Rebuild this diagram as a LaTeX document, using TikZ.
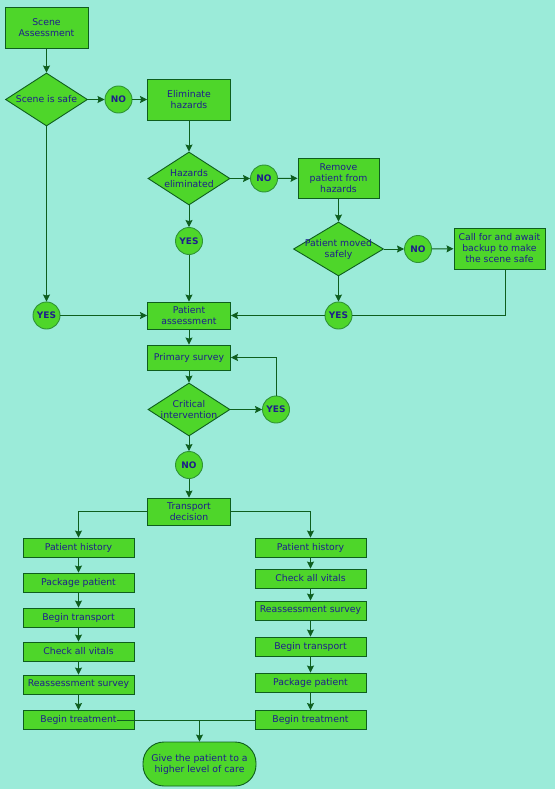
\documentclass[tikz,border=0pt]{standalone}
\usepackage{fontspec}
\setmainfont{DejaVu Sans}
\usetikzlibrary{shapes.geometric,arrows.meta}
\definecolor{bg}{HTML}{9BEBD9}
\definecolor{leaf}{HTML}{4ED62A}
\definecolor{wire}{HTML}{0E5E1E}
\definecolor{ink}{HTML}{1E1E8C}
\definecolor{ring}{HTML}{2F9436}
\begin{document}
\begin{tikzpicture}[x=1pt,y=-1pt,>={Stealth[length=7pt,width=7pt,inset=1pt]},
  every node/.style={text=ink,font=\fontsize{9.3}{11}\selectfont},
  box/.style={draw=wire,fill=leaf,line width=0.9pt,align=center,inner sep=0pt,minimum width=83pt,minimum height=41pt},
  row/.style={box,minimum width=111pt,minimum height=19pt},
  dec/.style={draw=wire,fill=leaf,line width=0.9pt,diamond,shape aspect=1.6,align=center,inner sep=-3pt,minimum width=82pt,minimum height=53pt},
  ans/.style={draw=ring,fill=leaf,line width=0.9pt,circle,inner sep=0pt,minimum size=27pt,font=\fontsize{9}{11}\bfseries},
  term/.style={draw=wire,fill=leaf,line width=0.9pt,rounded corners=21pt,align=center,inner sep=0pt,minimum width=113pt,minimum height=44pt},
  line/.style={draw=wire,line width=0.9pt}]
  \useasboundingbox[fill=bg] (0,0) rectangle (555,789);
  \node[box] (1) at (46.5,28) {Scene\\Assessment};
  \node[dec] (2) at (46.5,99.5) {Scene is safe};
  \node[ans] (3) at (118.5,99.5) {NO};
  \node[box] (4) at (189,99.5) {Eliminate\\hazards};
  \node[dec] (5) at (189,178.5) {Hazards\\eliminated};
  \node[ans] (6) at (264,178.5) {NO};
  \node[box,minimum width=81pt,minimum height=40pt] (7) at (338.5,178) {Remove\\patient from\\hazards};
  \node[ans] (8) at (189,241) {YES};
  \node[dec,minimum width=90pt,minimum height=54pt] (9) at (338.5,249) {Patient moved\\safely};
  \node[ans] (10) at (418,249) {NO};
  \node[box,minimum width=91pt] (11) at (499.5,248.5) {Call for and await\\backup to make\\the scene safe};
  \node[ans] (12) at (338.5,315.5) {YES};
  \node[ans] (13) at (46.5,315.5) {YES};
  \node[box,minimum height=27pt] (14) at (189,315.5) {Patient\\assessment};
  \node[box,minimum height=25pt] (15) at (189,357.5) {Primary survey};
  \node[dec] (16) at (189,409.5) {Critical\\intervention};
  \node[ans] (17) at (276,409.5) {YES};
  \node[ans] (18) at (189,465) {NO};
  \node[box,minimum height=27pt] (19) at (189,511.5) {Transport\\decision};
  \node[row] (20) at (78.5,547.5) {Patient history};
  \node[row] (21) at (78.5,582.5) {Package patient};
  \node[row] (22) at (78.5,617.5) {Begin transport};
  \node[row] (23) at (78.5,651.5) {Check all vitals};
  \node[row] (24) at (78.5,684.5) {Reassessment survey};
  \node[row] (25) at (78.5,720) {Begin treatment};
  \node[row] (26) at (310.5,547.5) {Patient history};
  \node[row] (27) at (310.5,578.5) {Check all vitals};
  \node[row] (28) at (310.5,610.5) {Reassessment survey};
  \node[row] (29) at (310.5,646.5) {Begin transport};
  \node[row] (30) at (310.5,682.5) {Package patient};
  \node[row] (31) at (310.5,720) {Begin treatment};
  \node[term] (32) at (199.5,764) {Give the patient to a\\higher level of care};
  \coordinate (33) at (117,720);
  \coordinate (34) at (199.5,720);
  \coordinate (35) at ([xshift=6pt]11.south);
  \draw[line,->] (1) -- (2);
  \draw[line,->] (2) -- (3);
  \draw[line,->] (3) -- (4);
  \draw[line,->] (4) -- (5);
  \draw[line,->] (5) -- (6);
  \draw[line,->] (6) -- (7);
  \draw[line,->] (5) -- (8);
  \draw[line,->] (8) -- (14);
  \draw[line,->] (7) -- (9);
  \draw[line,->] (9) -- (10);
  \draw[line,->] (10) -- (11);
  \draw[line,->] (9) -- (12);
  \draw[line] (35) |- (12);
  \draw[line,->,line width=1.8pt] (12) -- (14);
  \draw[line,->] (2) -- (13);
  \draw[line,->] (13) -- (14);
  \draw[line,->] (14) -- (15);
  \draw[line,->] (15) -- (16);
  \draw[line,->] (16) -- (17);
  \draw[line,->] (17) |- (15);
  \draw[line,->] (16) -- (18);
  \draw[line,->] (18) -- (19);
  \draw[line,->] (19.west) -| (20);
  \draw[line,->] (19.east) -| (26);
  \draw[line,->] (20) -- (21);
  \draw[line,->] (21) -- (22);
  \draw[line,->] (22) -- (23);
  \draw[line,->] (23) -- (24);
  \draw[line,->] (24) -- (25);
  \draw[line,->] (26) -- (27);
  \draw[line,->] (27) -- (28);
  \draw[line,->] (28) -- (29);
  \draw[line,->] (29) -- (30);
  \draw[line,->] (30) -- (31);
  \draw[line] (33) -- (31);
  \draw[line,->] (34) -- (32);
\end{tikzpicture}
\end{document}
